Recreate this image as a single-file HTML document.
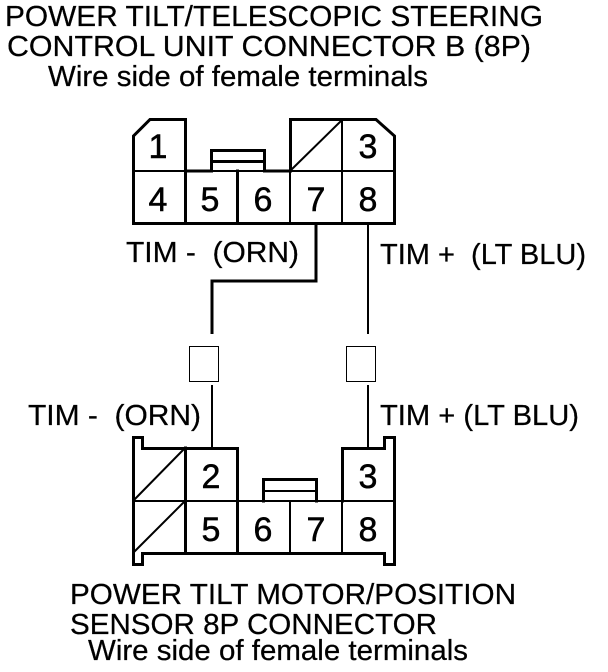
<!DOCTYPE html>
<html><head><meta charset="utf-8"><style>
html,body{margin:0;padding:0;background:#fff}
svg{display:block}
text{font-family:"Liberation Sans",sans-serif;fill:#000;stroke:#000;white-space:pre}
.t{font-size:29px;stroke-width:.25px}
.n{font-size:34px;text-anchor:middle;stroke-width:.5px}
</style></head><body>
<svg width="608" height="672" viewBox="0 0 608 672" xmlns="http://www.w3.org/2000/svg" xml:space="preserve">
<text class="t" x="5" y="26" textLength="538" lengthAdjust="spacingAndGlyphs">POWER TILT/TELESCOPIC STEERING</text>
<text class="t" x="7" y="56" textLength="524" lengthAdjust="spacingAndGlyphs">CONTROL UNIT CONNECTOR B (8P)</text>
<text class="t" x="48" y="86" textLength="380" lengthAdjust="spacingAndGlyphs">Wire side of female terminals</text>
<text class="t" x="126" y="262" textLength="173" lengthAdjust="spacingAndGlyphs">TIM -  (ORN)</text>
<text class="t" x="380" y="264" textLength="206" lengthAdjust="spacingAndGlyphs">TIM +  (LT BLU)</text>
<text class="t" x="28" y="425" textLength="173" lengthAdjust="spacingAndGlyphs">TIM -  (ORN)</text>
<text class="t" x="380" y="425" textLength="199" lengthAdjust="spacingAndGlyphs">TIM + (LT BLU)</text>
<text class="t" x="70" y="604" textLength="446" lengthAdjust="spacingAndGlyphs">POWER TILT MOTOR/POSITION</text>
<text class="t" x="70" y="634" textLength="367" lengthAdjust="spacingAndGlyphs">SENSOR 8P CONNECTOR</text>
<text class="t" x="88" y="660" textLength="380" lengthAdjust="spacingAndGlyphs">Wire side of female terminals</text>
<g fill="none" stroke="#000" stroke-width="3" stroke-linecap="square">
<!-- top connector -->
<path d="M150 119.500H185.500V171H211.500V150.500H264.500V171H290.500V119.500H376L394.500 136V223.500H133.500V136Z"/>
<path d="M211.500 161.500H264.500"/>
<path d="M185.500 171V223M237.500 171V223"/>
<!-- bottom connector -->
<path d="M237.500 501V448.500H142.500V437.500H133.500V564.500H142.500V553.500H384.500V564.500H394.500V437.500H384.500V448.500H342.500V501"/>
<path d="M263.500 501V479.500H316.500V501"/>
<path d="M185.500 448V553M237.500 501V553"/>
</g>
<g fill="none" stroke="#000" stroke-width="2">
<path d="M133 171H395M290 171V223M342 120V223M290 171L342 120"/>
<path d="M133 501H395M290 501V553M342 448V553M263 491H316"/>
<path d="M133 501L185 448M133 553L185 501"/>
<path d="M368 223V334M368 385V448M212 385V448"/>
</g>
<path d="M316 223V281H212V334" fill="none" stroke="#000" stroke-width="3"/>
<rect x="189.500" y="346.500" width="29" height="35" fill="none" stroke="#000" stroke-width="1"/>
<rect x="346.500" y="346.500" width="29" height="35" fill="none" stroke="#000" stroke-width="1"/>
<text class="n" x="158" y="158">1</text>
<text class="n" x="368" y="158">3</text>
<text class="n" x="158" y="211">4</text>
<text class="n" x="210" y="211">5</text>
<text class="n" x="263" y="211">6</text>
<text class="n" x="316" y="211">7</text>
<text class="n" x="368" y="211">8</text>
<text class="n" x="211" y="488">2</text>
<text class="n" x="368" y="488">3</text>
<text class="n" x="211" y="541">5</text>
<text class="n" x="263" y="541">6</text>
<text class="n" x="316" y="541">7</text>
<text class="n" x="368" y="541">8</text>
</svg>
</body></html>
